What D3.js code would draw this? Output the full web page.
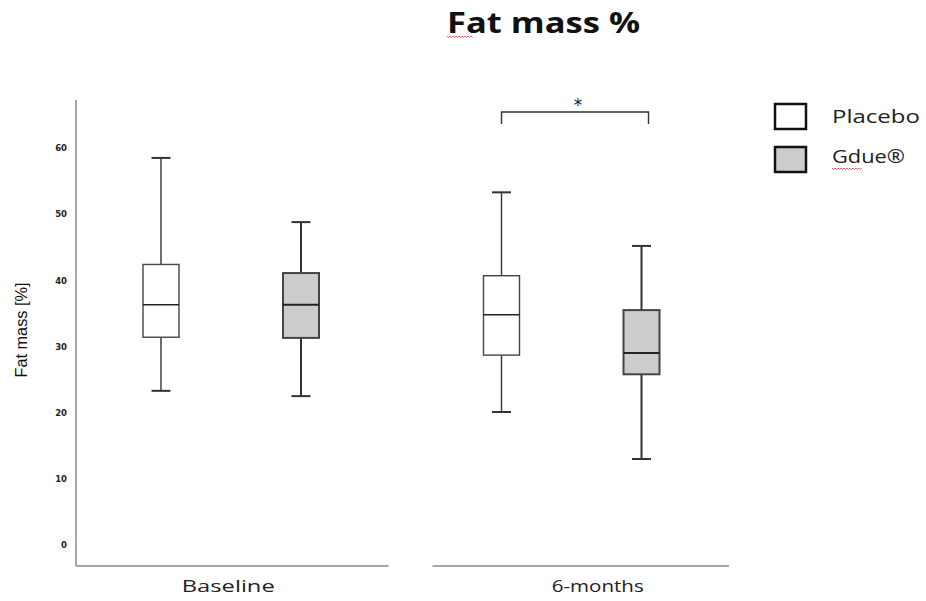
<!DOCTYPE html>
<html>
<head>
<meta charset="utf-8">
<script src="https://cdn.jsdelivr.net/npm/d3@7"></script>
<style>
  body { margin: 0; background: #fff; }
  svg { display: block; }
</style>
</head>
<body>
<svg id="chart" width="926" height="601"></svg>
<script>
// groups on the x axis and the two arms
var groups = ["Baseline", "6-months"];
var series = ["Placebo", "Gdue\u00ae"];

// box stats: [min, q1, median, q3, max]
var placeboStats = [
    [23.3, 31.4, 36.3, 42.4, 58.5],
    [20.1, 28.7, 34.8, 40.7, 53.3]
];
var gdueStats = [
    [22.5, 31.3, 36.3, 41.1, 48.8],
    [13.0, 25.8, 29.0, 35.5, 45.2]
];
var yTicks = [0, 10, 20, 30, 40, 50, 60];

var svg = d3.select("#chart");

var y = d3.scaleLinear().domain([0, 60]).range([545, 148]);
var x0 = d3.scaleBand().domain(groups).range([61, 742]);
var x1 = d3.scalePoint().domain(series).range([100, 240]);

var fills = { "Placebo": "#ffffff", "Gdue\u00ae": "#cccccc" };
var strokeW = { "Placebo": 1.4, "Gdue\u00ae": 2 };

// title
svg.append("text")
    .attr("x", 447).attr("y", 33)
    .attr("textLength", 193)
    .attr("lengthAdjust", "spacingAndGlyphs")
    .style("font-family", "'Open Sans', sans-serif")
    .style("font-weight", "bold")
    .style("font-size", "28px")
    .attr("fill", "#111")
    .text("Fat mass %");

function squiggle(x, yy, w) {
    var d = "M" + x + "," + yy;
    for (var i = 0; i < w; i += 3) {
        d += " l1.5," + (i % 6 === 0 ? 1.5 : -1.5);
    }
    return d;
}
svg.append("path")
    .attr("d", squiggle(447, 36, 50))
    .attr("fill", "none").attr("stroke", "#e04040").attr("stroke-width", 0.8);

// y axis
var yAxis = d3.axisLeft(y).tickValues(yTicks).tickSize(0).tickPadding(9);
var gy = svg.append("g").attr("transform", "translate(76,0)").call(yAxis);
gy.select(".domain").remove();
gy.selectAll("text")
    .style("font-family", "'DejaVu Sans', sans-serif")
    .style("font-weight", "bold")
    .style("font-size", "8.5px")
    .attr("fill", "#222");

svg.append("line")
    .attr("x1", 76).attr("x2", 76).attr("y1", 100).attr("y2", 566)
    .attr("stroke", "#888").attr("stroke-width", 1.5);

// broken x axis, one segment per group
var labelLen = { "Baseline": 93, "6-months": 92 };
groups.forEach(function (g, i) {
    var xa = i === 0 ? 76 : x0(g) + 31;
    var xb = x0(g) + x0.bandwidth() - 13;
    svg.append("line")
        .attr("x1", xa).attr("x2", xb).attr("y1", 566).attr("y2", 566)
        .attr("stroke", "#888").attr("stroke-width", 1.5);
    svg.append("text")
        .attr("x", i === 0 ? x0(g) - 3 + x0.bandwidth() / 2 : x0(g) + 26 + x0.bandwidth() / 2)
        .attr("y", 592)
        .attr("text-anchor", "middle")
        .attr("textLength", labelLen[g])
        .attr("lengthAdjust", "spacingAndGlyphs")
        .style("font-family", "'Open Sans', sans-serif")
        .style("font-size", "17px")
        .attr("fill", "#222")
        .text(g);
});

svg.append("text")
    .attr("transform", "translate(27,330) rotate(-90)")
    .attr("text-anchor", "middle")
    .style("font-family", "'Liberation Sans', Arial, sans-serif")
    .style("font-size", "16px")
    .attr("textLength", 95)
    .attr("lengthAdjust", "spacingAndGlyphs")
    .attr("fill", "#111")
    .text("Fat mass [%]");

// boxes
var boxW = 36, capW = 19;
var rows = [];
groups.forEach(function (g, i) {
    rows.push({ group: g, s: series[0], v: placeboStats[i] });
    rows.push({ group: g, s: series[1], v: gdueStats[i] });
});

var box = svg.selectAll("g.box").data(rows).enter().append("g")
    .attr("class", "box")
    .attr("transform", function (d) { return "translate(" + (x0(d.group) + x1(d.s)) + ",0)"; });

box.append("line")
    .attr("x1", 0).attr("x2", 0)
    .attr("y1", function (d) { return y(d.v[4]); })
    .attr("y2", function (d) { return y(d.v[0]); })
    .attr("stroke", "#333")
    .attr("stroke-width", function (d) { return strokeW[d.s]; });

[0, 4].forEach(function (k) {
    box.append("line")
        .attr("x1", -capW / 2).attr("x2", capW / 2)
        .attr("y1", function (d) { return y(d.v[k]); })
        .attr("y2", function (d) { return y(d.v[k]); })
        .attr("stroke", "#333")
        .attr("stroke-width", 2);
});

box.append("rect")
    .attr("x", -boxW / 2).attr("width", boxW)
    .attr("y", function (d) { return y(d.v[3]); })
    .attr("height", function (d) { return y(d.v[1]) - y(d.v[3]); })
    .attr("fill", function (d) { return fills[d.s]; })
    .attr("stroke", "#444")
    .attr("stroke-width", function (d) { return strokeW[d.s]; });

box.append("line")
    .attr("x1", -boxW / 2).attr("x2", boxW / 2)
    .attr("y1", function (d) { return y(d.v[2]); })
    .attr("y2", function (d) { return y(d.v[2]); })
    .attr("stroke", "#222")
    .attr("stroke-width", function (d) { return strokeW[d.s]; });

// significance bracket at 6 months
var bx1 = x0(groups[1]) + x1(series[0]),
    bx2 = x0(groups[1]) + x1(series[1]) + 7;
svg.append("path")
    .attr("d", "M" + bx1 + ",124 V112 H" + bx2 + " V124")
    .attr("fill", "none").attr("stroke", "#333").attr("stroke-width", 1.4);
svg.append("text")
    .attr("x", (bx1 + bx2) / 2 + 3).attr("y", 111)
    .attr("text-anchor", "middle")
    .style("font-family", "'DejaVu Sans', sans-serif")
    .style("font-size", "17px")
    .attr("fill", "#222")
    .text("*");

// legend
var legLen = { "Placebo": 88, "Gdue\u00ae": 73 };
var leg = svg.selectAll("g.leg").data(series).enter().append("g")
    .attr("class", "leg")
    .attr("transform", function (d, i) { return "translate(775," + (104 + i * 43) + ")"; });
leg.append("rect")
    .attr("width", 31).attr("height", 25)
    .attr("fill", function (d) { return fills[d]; })
    .attr("stroke", "#111").attr("stroke-width", 2.5);
leg.append("text")
    .attr("x", 57).attr("y", function (d, i) { return i === 0 ? 19 : 16; })
    .attr("textLength", function (d) { return legLen[d]; })
    .attr("lengthAdjust", "spacingAndGlyphs")
    .style("font-family", "'Open Sans', sans-serif")
    .style("font-size", "18px")
    .attr("fill", "#222")
    .text(function (d) { return d; });
svg.append("path")
    .attr("d", squiggle(832, 168, 60))
    .attr("fill", "none").attr("stroke", "#e04040").attr("stroke-width", 0.8);
</script>
</body>
</html>
